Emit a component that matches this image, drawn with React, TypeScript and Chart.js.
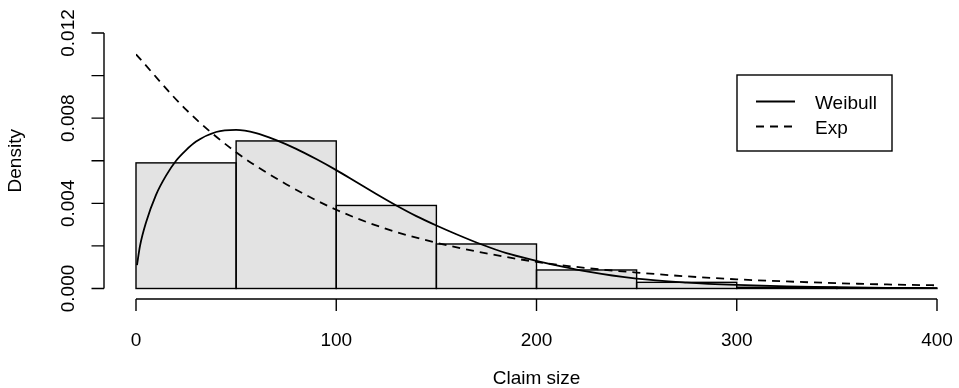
import React, { useEffect, useRef } from "react";
import { Chart, registerables } from "chart.js";

Chart.register(...registerables);

// Histogram bins (edges) and densities
const binEdges = [0, 50, 100, 150, 200, 250, 300, 350, 400];
const densities = [0.0059, 0.00693, 0.0039, 0.00209, 0.00087, 0.00029, 0.00006, 0.00002];

// Fitted Weibull density curve
const weibullX = [0.5, 2, 5, 10, 15, 20, 25, 30, 40, 50, 60, 70, 80, 90, 100, 110, 120, 130, 140, 150, 160, 172, 185, 200, 210, 225, 250, 275, 300, 325, 350, 375, 400];
const weibullY = [0.0011, 0.002, 0.0031, 0.0044, 0.0053, 0.006, 0.0065, 0.0069, 0.00735, 0.00745, 0.0073, 0.00697, 0.00656, 0.00608, 0.00556, 0.005, 0.00444, 0.0039, 0.0034, 0.00296, 0.00255, 0.00209, 0.00166, 0.0013, 0.00109, 0.0008, 0.00046, 0.00028, 0.00017, 0.0001, 0.00006, 0.00003, 0.00002];

// Fitted exponential density curve
const expX = [0, 25, 50, 75, 100, 125, 150, 175, 200, 225, 250, 275, 300, 325, 350, 375, 400];
const expY = [0.011, 0.0084, 0.0064, 0.0049, 0.0037, 0.0028, 0.00215, 0.00165, 0.00125, 0.00096, 0.00075, 0.00057, 0.00043, 0.00033, 0.00025, 0.00019, 0.00015];

// Axis ticks
const xTicks = [0, 100, 200, 300, 400];
const xTickLabels = ["0", "100", "200", "300", "400"];
const yTicks = [0, 0.002, 0.004, 0.006, 0.008, 0.01, 0.012];
const yTickLabels = ["0.000", "", "0.004", "", "0.008", "", "0.012"];

const xTitle = "Claim size";
const yTitle = "Density";
const legendLabels = ["Weibull", "Exp"];

const FONT = '19px "Liberation Sans", Arial, Helvetica, sans-serif';

const rStyle = {
  id: "rStyle",
  afterDatasetDraw(chart: any, args: any) {
    if (args.index !== 0) return;
    const ctx = chart.ctx;
    const meta = chart.getDatasetMeta(0);
    ctx.save();
    ctx.strokeStyle = "#000";
    ctx.lineWidth = 1.4;
    meta.data.forEach((el: any) => {
      const p = el.getProps(["x", "y", "base", "width"], true);
      const l = p.x - p.width / 2;
      ctx.strokeRect(l, p.y, p.width, p.base - p.y);
    });
    ctx.restore();
  },
  afterDraw(chart: any) {
    const ctx = chart.ctx;
    const xs = chart.scales.x;
    const ys = chart.scales.y;
    const area = chart.chartArea;
    ctx.save();
    ctx.strokeStyle = "#000";
    ctx.fillStyle = "#000";
    ctx.lineWidth = 1.4;
    ctx.font = FONT;

    // x axis
    const axY = area.bottom + 10.5;
    ctx.beginPath();
    ctx.moveTo(xs.getPixelForValue(xTicks[0]), axY);
    ctx.lineTo(xs.getPixelForValue(xTicks[xTicks.length - 1]), axY);
    xTicks.forEach((t) => {
      const px = xs.getPixelForValue(t);
      ctx.moveTo(px, axY);
      ctx.lineTo(px, axY + 12);
    });
    ctx.stroke();
    ctx.textAlign = "center";
    ctx.textBaseline = "alphabetic";
    xTicks.forEach((t, i) => {
      ctx.fillText(xTickLabels[i], xs.getPixelForValue(t), axY + 46.5);
    });
    ctx.fillText(xTitle, (area.left + area.right) / 2, axY + 85);

    // y axis
    const axX = area.left - 32;
    ctx.beginPath();
    ctx.moveTo(axX, ys.getPixelForValue(yTicks[0]));
    ctx.lineTo(axX, ys.getPixelForValue(yTicks[yTicks.length - 1]));
    yTicks.forEach((t) => {
      const py = ys.getPixelForValue(t);
      ctx.moveTo(axX, py);
      ctx.lineTo(axX - 12.5, py);
    });
    ctx.stroke();
    yTicks.forEach((t, i) => {
      if (!yTickLabels[i]) return;
      ctx.save();
      ctx.translate(axX - 30, ys.getPixelForValue(t));
      ctx.rotate(-Math.PI / 2);
      ctx.fillText(yTickLabels[i], 0, 0);
      ctx.restore();
    });
    ctx.save();
    ctx.translate(21, (area.top + area.bottom) / 2);
    ctx.rotate(-Math.PI / 2);
    ctx.fillText(yTitle, 0, 0);
    ctx.restore();

    // legend
    const bx = 737, by = 75, bw = 155, bh = 76;
    ctx.lineWidth = 1.4;
    ctx.strokeRect(bx, by, bw, bh);
    ctx.lineWidth = 1.8;
    ctx.beginPath();
    ctx.moveTo(bx + 19, by + 26.5);
    ctx.lineTo(bx + 58, by + 26.5);
    ctx.stroke();
    ctx.setLineDash([8, 6]);
    ctx.beginPath();
    ctx.moveTo(bx + 19, by + 51.5);
    ctx.lineTo(bx + 58, by + 51.5);
    ctx.stroke();
    ctx.setLineDash([]);
    ctx.textAlign = "left";
    ctx.fillText(legendLabels[0], bx + 78, by + 33.5);
    ctx.fillText(legendLabels[1], bx + 78, by + 58.5);
    ctx.restore();
  },
};

export default function App() {
  const ref = useRef<HTMLCanvasElement | null>(null);
  useEffect(() => {
    document.body.style.margin = "0";
    const canvas = ref.current!;
    const mids = densities.map((_, i) => (binEdges[i] + binEdges[i + 1]) / 2);
    const chart = new Chart(canvas, {
      type: "bar",
      data: {
        datasets: [
          {
            type: "bar",
            label: "hist",
            data: mids.map((m, i) => ({ x: m, y: densities[i] })),
            backgroundColor: "#e3e3e3",
            borderWidth: 0,
            barPercentage: 1,
            categoryPercentage: 1,
            order: 3,
          } as any,
          {
            type: "line",
            label: legendLabels[0],
            data: weibullX.map((x, i) => ({ x, y: weibullY[i] })),
            borderColor: "#000",
            borderWidth: 1.8,
            pointRadius: 0,
            cubicInterpolationMode: "monotone",
            fill: false,
            order: 1,
          } as any,
          {
            type: "line",
            label: legendLabels[1],
            data: expX.map((x, i) => ({ x, y: expY[i] })),
            borderColor: "#000",
            borderWidth: 1.8,
            borderDash: [8, 6],
            pointRadius: 0,
            cubicInterpolationMode: "monotone",
            fill: false,
            order: 2,
          } as any,
        ],
      },
      options: {
        responsive: false,
        animation: false,
        devicePixelRatio: 1,
        layout: { padding: { left: 136, right: 22, top: 33, bottom: 99.5 } },
        scales: {
          x: { type: "linear", min: 0, max: 400, display: false, offset: false, ticks: { stepSize: 50 }, grid: { offset: false } },
          y: { type: "linear", min: 0, max: 0.012, display: false },
        },
        plugins: { legend: { display: false }, tooltip: { enabled: false } },
      } as any,
      plugins: [rStyle],
    });
    return () => chart.destroy();
  }, []);
  return (
    <div style={{ width: 959, height: 388, background: "#fff" }}>
      <canvas ref={ref} width={959} height={388} style={{ display: "block" }} />
    </div>
  );
}
